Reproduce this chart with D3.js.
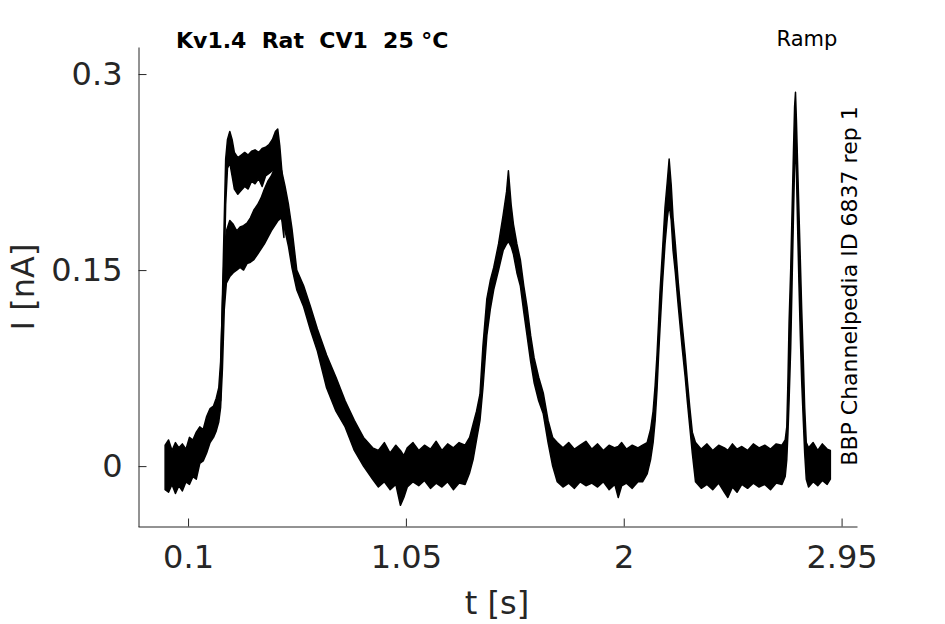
<!DOCTYPE html>
<html>
<head>
<meta charset="utf-8">
<script src="https://cdn.jsdelivr.net/npm/d3@7"></script>
<style>
  body { margin: 0; background: #fff; }
  svg { font-family: "DejaVu Sans", sans-serif; }
</style>
</head>
<body>
<div id="chart"></div>
<script>
// time points [s] and lower/upper envelope [nA] of the overlaid sweeps
var time = [
  0.000, 0.015, 0.030, 0.045, 0.060, 0.075, 0.091, 0.106, 0.121, 0.136, 0.151, 0.166, 0.181, 0.196, 0.211, 0.223,
  0.234, 0.242, 0.250, 0.258, 0.267, 0.282, 0.297, 0.312, 0.327, 0.342, 0.357, 0.372, 0.387, 0.403, 0.418, 0.433,
  0.448, 0.463, 0.478, 0.493, 0.508, 0.523, 0.538, 0.553, 0.574, 0.604, 0.634, 0.664, 0.704, 0.745, 0.785, 0.825,
  0.865, 0.905, 0.930, 0.956, 0.981, 1.006, 1.026, 1.041, 1.056, 1.081, 1.106, 1.131, 1.157, 1.182, 1.207, 1.232,
  1.257, 1.282, 1.308, 1.328, 1.343, 1.358, 1.373, 1.386, 1.403, 1.418, 1.433, 1.454, 1.474, 1.489, 1.497, 1.509,
  1.519, 1.534, 1.549, 1.564, 1.579, 1.594, 1.609, 1.629, 1.649, 1.670, 1.690, 1.710, 1.735, 1.760, 1.785, 1.810,
  1.835, 1.861, 1.886, 1.911, 1.936, 1.961, 1.976, 1.991, 2.012, 2.037, 2.062, 2.082, 2.102, 2.117, 2.128, 2.137,
  2.145, 2.152, 2.158, 2.169, 2.180, 2.190, 2.198, 2.207, 2.215, 2.225, 2.238, 2.255, 2.268, 2.277, 2.288, 2.299,
  2.313, 2.338, 2.363, 2.388, 2.414, 2.439, 2.454, 2.474, 2.494, 2.515, 2.540, 2.565, 2.590, 2.615, 2.640, 2.665,
  2.690, 2.704, 2.711, 2.716, 2.721, 2.728, 2.734, 2.740, 2.745, 2.749, 2.753, 2.758, 2.764, 2.770, 2.776, 2.783,
  2.789, 2.796, 2.806, 2.826, 2.846, 2.866, 2.887, 2.901
];
var lower = [
  -0.018, -0.020, -0.014, -0.021, -0.015, -0.019, -0.012, -0.014, -0.008, -0.010, 0.002, 0.004, 0.010, 0.018, 0.022, 0.027,
  0.034, 0.045, 0.075, 0.120, 0.140, 0.145, 0.148, 0.150, 0.152, 0.150, 0.155, 0.156, 0.158, 0.162, 0.166, 0.170,
  0.175, 0.180, 0.184, 0.188, 0.190, 0.180, 0.168, 0.152, 0.135, 0.122, 0.104, 0.088, 0.060, 0.042, 0.030, 0.012,
  0.000, -0.010, -0.016, -0.012, -0.018, -0.014, -0.030, -0.024, -0.016, -0.012, -0.015, -0.011, -0.017, -0.013, -0.016, -0.012,
  -0.018, -0.013, -0.014, -0.005, 0.005, 0.020, 0.035, 0.060, 0.100, 0.120, 0.135, 0.150, 0.165, 0.170, 0.172, 0.168,
  0.162, 0.148, 0.138, 0.118, 0.099, 0.080, 0.064, 0.050, 0.040, 0.018, 0.000, -0.012, -0.016, -0.013, -0.017, -0.012,
  -0.015, -0.013, -0.016, -0.012, -0.018, -0.014, -0.024, -0.015, -0.013, -0.017, -0.012, -0.012, -0.006, 0.005, 0.018, 0.035,
  0.058, 0.085, 0.105, 0.140, 0.170, 0.190, 0.200, 0.188, 0.165, 0.148, 0.122, 0.090, 0.068, 0.050, 0.030, 0.010,
  -0.012, -0.017, -0.014, -0.018, -0.013, -0.020, -0.024, -0.016, -0.020, -0.014, -0.017, -0.013, -0.016, -0.014, -0.018, -0.013,
  -0.014, -0.008, 0.005, 0.025, 0.050, 0.090, 0.140, 0.190, 0.230, 0.250, 0.225, 0.185, 0.140, 0.100, 0.065, 0.035,
  0.010, -0.010, -0.016, -0.012, -0.015, -0.011, -0.014, -0.010
];
var upper = [
  0.016, 0.020, 0.012, 0.018, 0.014, 0.017, 0.013, 0.022, 0.020, 0.026, 0.030, 0.028, 0.038, 0.044, 0.046, 0.052,
  0.060, 0.080, 0.125, 0.165, 0.180, 0.188, 0.185, 0.180, 0.183, 0.184, 0.186, 0.190, 0.196, 0.200, 0.205, 0.212,
  0.218, 0.222, 0.228, 0.230, 0.226, 0.214, 0.200, 0.182, 0.150, 0.138, 0.122, 0.105, 0.085, 0.068, 0.050, 0.035,
  0.022, 0.014, 0.012, 0.018, 0.010, 0.016, 0.012, 0.008, 0.014, 0.018, 0.012, 0.016, 0.013, 0.019, 0.012, 0.017,
  0.014, 0.018, 0.016, 0.022, 0.032, 0.042, 0.055, 0.092, 0.128, 0.142, 0.152, 0.170, 0.192, 0.210, 0.226, 0.200,
  0.185, 0.170, 0.158, 0.138, 0.121, 0.100, 0.083, 0.068, 0.056, 0.035, 0.022, 0.018, 0.014, 0.018, 0.013, 0.016,
  0.019, 0.013, 0.017, 0.012, 0.016, 0.014, 0.015, 0.018, 0.013, 0.016, 0.014, 0.016, 0.018, 0.028, 0.042, 0.062,
  0.085, 0.110, 0.133, 0.165, 0.198, 0.218, 0.235, 0.215, 0.190, 0.170, 0.140, 0.108, 0.085, 0.066, 0.045, 0.026,
  0.018, 0.013, 0.017, 0.012, 0.016, 0.014, 0.012, 0.017, 0.013, 0.015, 0.012, 0.017, 0.014, 0.016, 0.013, 0.017,
  0.016, 0.020, 0.030, 0.065, 0.110, 0.150, 0.195, 0.240, 0.275, 0.286, 0.265, 0.232, 0.195, 0.158, 0.120, 0.082,
  0.045, 0.018, 0.014, 0.018, 0.012, 0.017, 0.013, 0.012
];

// the sweep that sits higher during the first ramp
var time2 = [
  0.242, 0.254, 0.264, 0.272, 0.282, 0.292, 0.302, 0.317, 0.332, 0.347, 0.362, 0.377, 0.392, 0.408, 0.423, 0.438,
  0.453, 0.468, 0.481, 0.491, 0.500, 0.508, 0.518
];
var lower2 = [
  0.050, 0.120, 0.200, 0.228, 0.232, 0.222, 0.212, 0.208, 0.211, 0.214, 0.212, 0.218, 0.216, 0.220, 0.214, 0.222,
  0.224, 0.226, 0.228, 0.230, 0.205, 0.190, 0.175
];
var upper2 = [
  0.070, 0.160, 0.235, 0.250, 0.256, 0.250, 0.240, 0.236, 0.238, 0.240, 0.238, 0.241, 0.242, 0.240, 0.243, 0.244,
  0.246, 0.250, 0.256, 0.258, 0.245, 0.228, 0.205
];

var xTicks = [0.1, 1.05, 2, 2.95];
var yTicks = [0, 0.15, 0.3];

var width = 945, height = 624;
var axisColor = "#262626";

var x = d3.scaleLinear().domain([-0.1183, 3.0172]).range([138, 857]);
var y = d3.scaleLinear().domain([-0.0462, 0.3207]).range([526.5, 47]);

var svg = d3.select("#chart").append("svg")
    .attr("width", width)
    .attr("height", height);

var band = d3.area()
    .x(function(d) { return x(d.t); })
    .y0(function(d) { return y(d.lo); })
    .y1(function(d) { return y(d.hi); });

var main = time.map(function(t, i) { return {t: t, lo: lower[i], hi: upper[i]}; });
var sweep2 = time2.map(function(t, i) { return {t: t, lo: lower2[i], hi: upper2[i]}; });

[main, sweep2].forEach(function(d) {
    svg.append("path")
        .datum(d)
        .attr("d", band)
        .style("fill", "#000")
        .style("stroke", "#000")
        .style("stroke-width", 1.5)
        .style("stroke-linejoin", "round");
});

// axes, ticks pointing inward
var gx = svg.append("g")
    .attr("transform", "translate(0,526.5)")
    .call(d3.axisBottom(x).tickValues(xTicks).tickSizeInner(-8).tickSizeOuter(0)
        .tickPadding(19).tickFormat(function(d) { return String(d); }));
var gy = svg.append("g")
    .attr("transform", "translate(138.5,0)")
    .call(d3.axisLeft(y).tickValues(yTicks).tickSizeInner(-8).tickSizeOuter(0)
        .tickPadding(16).tickFormat(function(d) { return String(d); }));

[gx, gy].forEach(function(g) {
    g.select(".domain").attr("stroke", axisColor);
    g.selectAll(".tick line").attr("stroke", axisColor);
    g.selectAll(".tick text")
        .attr("fill", axisColor)
        .style("font-size", "32px")
        .style("font-family", "DejaVu Sans");
});
gx.selectAll(".tick text").attr("dy", "0.71em");

svg.append("text")
    .attr("x", 497)
    .attr("y", 614)
    .attr("text-anchor", "middle")
    .attr("fill", axisColor)
    .style("font-size", "32px")
    .text("t [s]");

svg.append("text")
    .attr("transform", "translate(34,287) rotate(-90)")
    .attr("text-anchor", "middle")
    .attr("fill", axisColor)
    .style("font-size", "32px")
    .text("I [nA]");

svg.append("text")
    .attr("x", 176)
    .attr("y", 48)
    .attr("fill", "#000")
    .style("font-size", "22px")
    .style("font-weight", "bold")
    .style("white-space", "pre")
    .text("Kv1.4  Rat  CV1  25 °C");

svg.append("text")
    .attr("x", 807)
    .attr("y", 46)
    .attr("text-anchor", "middle")
    .attr("fill", "#000")
    .style("font-size", "21px")
    .text("Ramp");

svg.append("text")
    .attr("transform", "translate(857,286) rotate(-90)")
    .attr("text-anchor", "middle")
    .attr("fill", "#000")
    .style("font-size", "22px")
    .text("BBP Channelpedia ID 6837 rep 1");
</script>
</body>
</html>
